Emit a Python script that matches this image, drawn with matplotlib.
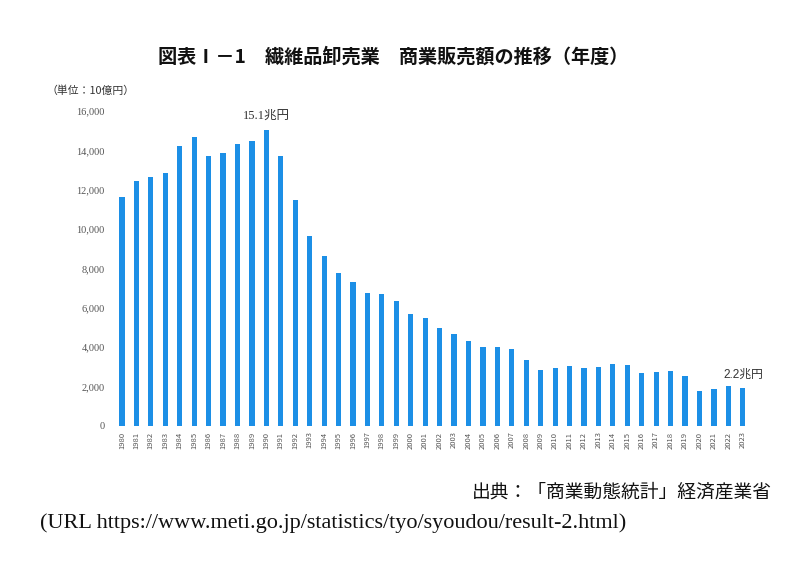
import matplotlib
matplotlib.use("Agg")
import matplotlib.pyplot as plt

plt.rcParams['font.family'] = ['Noto Sans CJK JP', 'DejaVu Sans']

years = [str(y) for y in range(1980, 2024)]
sales = [11650, 12420, 12640, 12840, 14230, 14680, 13700, 13840, 14300, 14450,
         15020, 13700, 11480, 9650, 8610, 7780, 7310, 6770, 6680, 6340,
         5710, 5500, 4960, 4660, 4300, 4030, 4020, 3910, 3360, 2850,
         2950, 3040, 2950, 3020, 3150, 3120, 2670, 2750, 2800, 2550,
         1760, 1860, 2010, 1940]
yticks = [0, 2000, 4000, 6000, 8000, 10000, 12000, 14000, 16000]
ytick_labels = ["0", "2,000", "4,000", "6,000", "8,000", "10,000", "12,000", "14,000", "16,000"]
title = "図表Ⅰ－1　繊維品卸売業　商業販売額の推移（年度）"
unit = "（単位：10億円）"
peak_label = "15.1兆円"
last_label = "2.2兆円"
source = "出典：「商業動態統計」経済産業省"
url = "(URL https://www.meti.go.jp/statistics/tyo/syoudou/result-2.html)"

fig = plt.figure(figsize=(8, 5.67), dpi=100)
ax = fig.add_axes([0.138, 0.2487, 0.805, 0.5556])
x = list(range(len(years)))
ax.bar(x, sales, width=0.36, color='#1c8fe6')
ax.set_xlim(-0.8, len(years) - 0.2)
ax.set_ylim(0, 16000)
ax.set_yticks(yticks)
ax.set_yticklabels(ytick_labels, fontsize=7.5, color='#555555', family=['Liberation Serif'])
ax.set_xticks(x)
ax.set_xticklabels(years, rotation=90, fontsize=5.5, color='#555555')
ax.tick_params(length=0, pad=4)
for s in ax.spines.values():
    s.set_visible(False)

i_peak = sales.index(max(sales))
ax.annotate(peak_label, (i_peak, sales[i_peak]), xytext=(0, 6), textcoords='offset points',
            ha='center', va='bottom', fontsize=9, color='#333333',
            family=['Liberation Serif', 'Noto Sans CJK JP'])
ax.annotate(last_label, (len(sales) - 1, sales[-1]), xytext=(0, 5), textcoords='offset points',
            ha='center', va='bottom', fontsize=8.5, color='#333333',
            family=['Liberation Sans', 'Noto Sans CJK JP'])

fig.text(0.492, 0.9, title, ha='center', va='center', fontsize=13.8, fontweight='bold', color='#111111')
fig.text(0.058, 0.84, unit, ha='left', va='center', fontsize=7.8, color='#333333')
fig.text(0.965, 0.132, source, ha='right', va='center', fontsize=13.5, color='#111111')
fig.text(0.05, 0.077, url, ha='left', va='center', fontsize=16, color='#111111',
         family=['Liberation Serif'])

fig.savefig("out.png", dpi=100, facecolor='white')
